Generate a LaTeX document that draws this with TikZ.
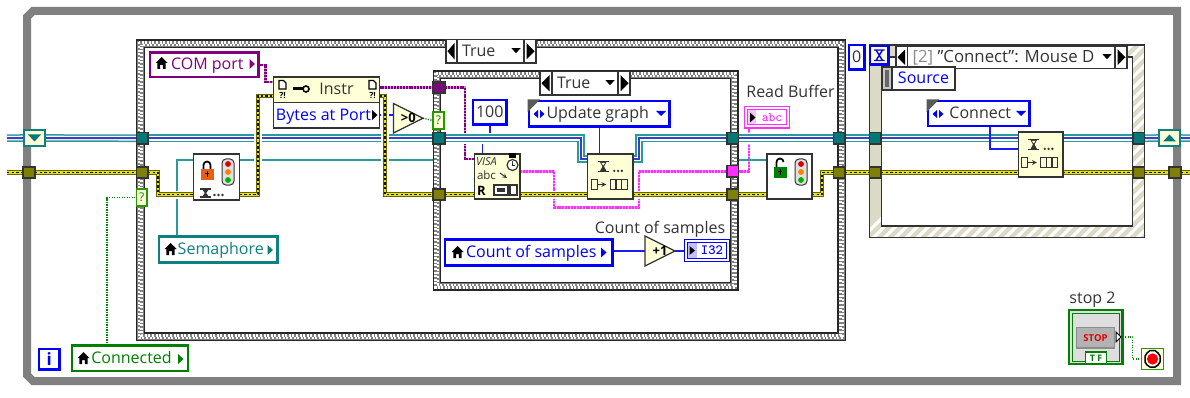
\documentclass[tikz,border=0pt]{standalone}
\usepackage{fontspec}
\setmainfont{Open Sans}
\usetikzlibrary{calc}
\pgfdeclarelayer{frames}\pgfdeclarelayer{wires}\pgfsetlayers{frames,wires,main}
\definecolor{loopgray}{HTML}{808080}
\definecolor{tealw}{HTML}{2B9A9A}
\definecolor{tealb}{HTML}{0F8080}
\definecolor{tealf}{HTML}{007878}
\definecolor{olivef}{HTML}{7F7F00}
\definecolor{pale}{HTML}{FFFFD8}
\definecolor{bluew}{HTML}{1C1CF0}
\definecolor{purp}{HTML}{800080}
\definecolor{purf}{HTML}{7A0A7A}
\definecolor{mag}{HTML}{FF30FF}
\definecolor{grn}{HTML}{008000}
\definecolor{ink}{HTML}{333333}
\definecolor{hatchb}{HTML}{DADAC6}
\newcommand{\lab}{\fontsize{16}{16}\selectfont}
\tikzset{
 x=1pt,y=-1pt,
 every node/.style={inner sep=0pt,outer sep=0pt},
 txt/.style={font=\lab,text height=13pt,text depth=3pt},
 boxk/.style={draw=ink,line width=1.4,fill=white},
 yel/.style={draw=ink,line width=1.4,fill=pale},
 tunT/.style={draw=ink,line width=1.1,fill=tealf},
 tunE/.style={draw=ink,line width=1.1,fill=olivef},
 tunP/.style={draw=ink,line width=1.1,fill=purf},
 tunM/.style={draw=ink,line width=1.1,fill=mag},
 ctlP/.style={txt,draw=purp,line width=2.6,fill=white,text=purp},
 ctlT/.style={txt,draw=tealb,line width=2.6,fill=white,text=tealb},
 ctlG/.style={txt,draw=grn,line width=2.6,fill=white,text=grn},
 ctlB/.style={txt,draw=blue,line width=2.6,fill=white,text=blue},
 cstB/.style={txt,draw=blue,line width=2.6,fill=white,text=ink},
 errw/.style={line width=2.8,draw={rgb,255:red,228;green,222;blue,44},
   preaction={draw=white,line width=8},
   preaction={draw={rgb,255:red,100;green,100;blue,0},line width=4.6},
   postaction={draw={rgb,255:red,20;green,20;blue,0},line width=1.7,dash pattern=on 2.4 off 2.2}},
 clw/.style={line width=2,draw={rgb,255:red,60;green,60;blue,200},
   preaction={draw=white,line width=11},
   preaction={draw=tealw,line width=7.6},
   preaction={draw=white,line width=4.6}},
 thinT/.style={draw=tealw,line width=1.4},
 thinB/.style={draw=bluew,line width=1.5},
 strP/.style={draw=purp,line width=2.4,dash pattern=on 2 off 0.9,preaction={draw=purp!40,line width=2.4,solid}},
 strM/.style={draw=mag,line width=2.6,dash pattern=on 2 off 0.9,preaction={draw=mag!45,line width=2.6,solid}},
 boolw/.style={draw=grn,line width=1.3,dash pattern=on 1.2 off 1.3},
 enqicon/.pic={
   \draw[line width=1.8,ink] (-12.5,-15)--(-1.5,-15) (-12.5,-5)--(-1.5,-5);
   \fill[ink] (-10.5,-15) -- (-3.5,-15) -- (-6.2,-10) -- (-3.5,-5) -- (-10.5,-5) -- (-7.8,-10) -- cycle;
   \fill[pale] (-8.8,-13.6) -- (-5.2,-13.6) -- (-7,-11) -- cycle;
   \fill[ink] (4,-5.6) circle (1.3) (7.8,-5.6) circle (1.3) (11.6,-5.6) circle (1.3);
   \draw[line width=1.1,ink] (-19,3) rectangle (-13,13);
   \draw[line width=1.1,ink,->,>=stealth] (-13,8) -- (-4,8);
   \draw[line width=1.2,ink] (0,3) rectangle (17,13) (5.7,3)--(5.7,13) (11.3,3)--(11.3,13);
 },
 trafficicon/.pic={
   \draw[line width=1,ink,fill=black!12,rounded corners=4] (-6,-13) rectangle (6,13);
   \fill[red!85!black] (0,-8) circle (2.9);
   \fill[orange] (0,0) circle (2.9);
   \fill[green!70!black] (0,8) circle (2.9);
 },
 lockicon/.pic={
   \draw[line width=1.7,black] (-3.5,-1) -- (-3.5,-5) arc[start angle=180,end angle=360,radius=3.5] -- (3.5,-1);
   \fill[pic actions] (-6.5,-1) rectangle (6.5,10);
   \draw[line width=1,black] (0,1.5)--(0,7) (-2,3.5)--(2,3.5);
 },
 unlockicon/.pic={
   \draw[line width=1.7,black] (-3.5,-1) -- (-3.5,-6) arc[start angle=180,end angle=360,radius=3.5];
   \fill[pic actions] (-6.5,-1) rectangle (6.5,10);
   \draw[line width=1,black] (0,1.5)--(0,7) (-2,3.5)--(2,3.5);
 },
 houseicon/.pic={
   \fill[black] (0,-6) -- (6,0) -- (4.2,0) -- (4.2,6) -- (1.4,6) -- (1.4,2) -- (-1.4,2) -- (-1.4,6) -- (-4.2,6) -- (-4.2,0) -- (-6,0) -- cycle;
 },
 docicon/.pic={
   \draw[line width=1.1,black,fill=white] (-3.5,-4.5) -- (1,-4.5) -- (3.5,-2) -- (3.5,4) -- (-3.5,4) -- cycle;
   \node[font=\fontsize{8.5}{8.5}\selectfont\bfseries,text=black] at (0,10) {?!};
 },
}
% box: style, name, x1, y1, x2, y2, text
\newcommand{\bx}[7]{\node[#1,minimum width={(#5-#3)*1pt},minimum height={(#6-#4)*1pt}] (#2) at ({(#3+#5)/2},{(#4+#6)/2}) {#7};}
\newcommand{\casefr}[4]{%
 \draw[line width=8.6,black!85] ({#1+4.3},{#2+4.3}) rectangle ({#3-4.3},{#4-4.3});
 \draw[line width=6.4,black!50] ({#1+4.3},{#2+4.3}) rectangle ({#3-4.3},{#4-4.3});
 \draw[line width=2.6,white,dash pattern=on 2 off 1.6] ({#1+3},{#2+3}) rectangle ({#3-3},{#4-3});
 \draw[line width=2.6,white,dash pattern=on 2 off 1.6,dash phase=1.8] ({#1+5.6},{#2+5.6}) rectangle ({#3-5.6},{#4-5.6});
}
% selector: name, x1,y1,x2,y2, d1, d2, text(node at left)
\newcommand{\selbx}[8]{%
 \bx{boxk}{#1}{#2}{#3}{#4}{#5}{}
 \draw[line width=1.3,ink] (#6,#3) -- (#6,#5) (#7,#3) -- (#7,#5);
 \fill[black] ({#6-2.5},{#3+3.5}) -- ({#6-2.5},{#5-3.5}) -- ({#2+1.5},{(#3+#5)/2}) -- cycle;
 \fill[black] ({#7+2.5},{#3+3.5}) -- ({#7+2.5},{#5-3.5}) -- ({#4-1.5},{(#3+#5)/2}) -- cycle;
 \fill[black] ({#7-12.5},{(#3+#5)/2-3}) -- ({#7-3.5},{(#3+#5)/2-3}) -- ({#7-8},{(#3+#5)/2+2}) -- cycle;
 \node[txt,anchor=west,text=ink] (#1t) at ({#6+5},{(#3+#5)/2+0.5}) {#8};
}
\newcommand{\tri}[6]{%
 \draw[line width=1.3,ink,fill=pale] (#2,#3) -- (#4,{(#3+#5)/2}) -- (#2,#5) -- cycle;
 \node[minimum width={(#4-#2)*1pt},minimum height={(#5-#3)*1pt},font=\fontsize{13}{13}\selectfont\bfseries,text=black] (#1) at ({(#2+#4)/2},{(#3+#5)/2}) {#6\hspace{7pt}};
}
\newcommand{\rtri}[3]{\fill[#3] ({#1-2.5},{#2-5}) -- ({#1+3},#2) -- ({#1-2.5},{#2+5}) -- cycle;}
\begin{document}
\begin{tikzpicture}
\useasboundingbox (0,0) rectangle (1190,398);

\begin{pgfonlayer}{frames}
 \fill[white] (0,0) rectangle (1190,398);
 % while loop
 \draw[line width=8,loopgray,miter limit=4] (33,11) -- (1177,11) -- (1177,381) -- (33,381) -- (27,375) -- (27,17) -- cycle;
 % cases
 \casefr{136}{39.5}{846}{341}
 \casefr{432.5}{70.5}{738.5}{290.5}
 % event structure
 \begin{scope}[even odd rule]
  \clip (869.5,45) rectangle (1144.5,237.5) (881.5,57) rectangle (1132.5,226);
  \fill[hatchb] (869,45) rectangle (1145,238);
  \foreach \k in {0,11,...,473}{\draw[white,line width=3.2] ({860+\k},240) -- ({860+\k+200},40);}
 \end{scope}
 \draw[line width=1.3,ink] (869.5,45) rectangle (1144.5,237.5) (881.5,57) rectangle (1132.5,226);
\end{pgfonlayer}

% selectors
\selbx{selO}{446}{39.5}{536}{63}{457}{524}{True}
\selbx{selI}{540}{71.5}{630}{95}{552}{618}{True}
\selbx{selE}{896}{46}{1127}{68.5}{907.5}{1115}{\fontsize{16.8}{17}\selectfont\textcolor{black!45}{[2]} "Connect": Mouse D}

% loop terminals
\bx{draw=tealb,line width=2.4,fill=pale}{lsrT}{24}{130}{45}{146}{}
\fill[tealf] (28,134.5) -- (41,134.5) -- (34.5,141.5) -- cycle;
\bx{draw=tealb,line width=2.4,fill=pale}{rsrT}{1159}{130}{1180}{146}{}
\fill[tealf] (1163,141.5) -- (1176,141.5) -- (1169.5,134.5) -- cycle;
\bx{tunE}{llpE}{23}{167}{35}{178}{}
\bx{tunE}{rlpE}{1169}{167}{1181}{178}{}
% tunnels
\bx{tunT}{oTL}{136.5}{132.5}{148}{144}{}
\bx{tunE}{oEL}{136.5}{167}{148}{178}{}
\bx{tunT}{oTR}{833.5}{132.5}{845}{144}{}
\bx{tunE}{oER}{833.5}{167}{845}{178}{}
\bx{tunT}{iTL}{433}{132.5}{445}{144}{}
\bx{tunE}{iEL}{433}{189}{445}{200}{}
\bx{tunP}{iPL}{433}{82}{445}{93}{}
\bx{tunT}{iTR}{727}{132.5}{738.5}{144}{}
\bx{tunM}{iMR}{727}{165.5}{738.5}{177}{}
\bx{tunE}{iER}{727}{189}{738.5}{200}{}
\bx{tunT}{evTL}{869.5}{132.5}{881}{144}{}
\bx{tunE}{evEL}{869.5}{167}{881}{178}{}
\bx{tunT}{evTR}{1133}{132.5}{1144.5}{144}{}
\bx{tunE}{evER}{1133}{167}{1144.5}{178}{}
% selector terminals
\bx{draw=grn!80!lime,line width=1.3,fill=pale,font=\fontsize{12}{12}\selectfont,text=grn}{sel}{136.5}{189}{147}{206}{?}
\bx{draw=grn!80!lime,line width=1.3,fill=pale,font=\fontsize{12}{12}\selectfont,text=grn}{bool}{433}{112}{444}{129}{?}

% controls
\bx{ctlP}{com}{150}{52.5}{258.5}{77}{\hspace{6pt}COM port}
\pic at (161.5,63) {houseicon}; \rtri{252}{64}{purp}
\bx{ctlT}{sem}{159}{236.5}{277.5}{262.5}{\hspace{5pt}Semaphore}
\pic at (170.5,249) {houseicon}; \rtri{270}{250}{tealb}
\bx{ctlG}{conn}{72}{345.5}{188}{371}{\hspace{3pt}Connected}
\pic at (83.5,358) {houseicon}; \rtri{180.5}{359}{grn}
\bx{ctlB}{cnt}{445}{239.5}{612.5}{265.5}{\hspace{5pt}Count of samples}
\pic at (457.5,252) {houseicon}; \rtri{603.5}{252.5}{blue}
\bx{draw=blue,line width=2.6,fill=white,font=\fontsize{17}{17}\selectfont\bfseries,text=blue}{ibox}{39}{349}{59.5}{369.5}{i}

% Instr node
\bx{yel}{instr}{273.5}{77}{379.5}{102.5}{}
\node[txt,text=ink] (instrT) at (336.5,89.5) {Instr};
\pic at (282.5,85) {docicon}; \pic at (372.5,85) {docicon};
\fill[black] (293,87.5) rectangle (303,90.5);
\draw[line width=1.6,black] (306,89) circle (3);
\bx{boxk,txt,text=blue}{bytes}{273.5}{102.5}{379.5}{128}{\hspace{-6pt}Bytes at Port}
\rtri{374.5}{115}{black}

% comparison and increment
\tri{gt}{393.5}{103.5}{423}{133}{>0}
\tri{inc}{645}{236}{675}{266}{+1}

% lock
\bx{boxk}{lock}{193.5}{154}{239.5}{200}{}
\pic[fill={rgb,255:red,228;green,96;blue,20}] at (207,170) {lockicon};
\pic at (228,172) {trafficicon};
\draw[line width=1.6,ink] (200,189)--(211,189) (200,197)--(211,197);
\fill[ink] (202,189) -- (209,189) -- (206.2,193) -- (209,197) -- (202,197) -- (204.8,193) -- cycle;
\fill[ink] (214.5,195) circle (1.3) (218.5,195) circle (1.3) (222.5,195) circle (1.3);
% unlock
\bx{boxk}{unlock}{767}{154}{812}{199}{}
\pic[fill=grn] at (780,168) {unlockicon};
\pic at (801,172) {trafficicon};

% VISA read
\bx{yel}{visa}{474.5}{154}{520}{199}{}
\node[font=\fontsize{11}{11}\selectfont\itshape,text=ink,anchor=west] (visaT) at (476,161.5) {VISA};
\node[font=\fontsize{11.5}{11.5}\selectfont,text=ink,anchor=west] (visaA) at (477,175) {abc};
\node[font=\fontsize{13}{13}\selectfont\bfseries,text=black,anchor=west] (visaR) at (477,191) {R};
\draw[line width=1.2,ink,fill=white] (512.5,165) circle (5.5);
\fill[black] (509,153.5) rectangle (516,158.5);
\draw[line width=0.9,ink] (512.5,161.5)--(512.5,165)--(515,165);
\draw[line width=1,ink,->,>=stealth] (500,173) -- (507,178);
\draw[line width=1.2,ink,fill=white] (494,185) rectangle (508,195) (510,185) rectangle (517,195);
\fill[ink] (497,188) rectangle (505,192);

% enqueue
\bx{yel}{wait}{587.5}{154}{633}{199}{}
\pic at (wait.center) {enqicon};
\bx{yel}{waitE}{1018.5}{132}{1063}{177}{}
\pic at (waitE.center) {enqicon};

% constants
\bx{cstB}{hund}{473}{100}{506.5}{124.5}{100}
\bx{cstB}{upd}{529}{101}{669.5}{126.5}{\hspace{-3pt}Update graph}
\fill[black!65] (527.5,99.5) -- (540,99.5) -- (527.5,112) -- cycle;
\fill[blue] (538,110) -- (533.5,114) -- (538,118) -- cycle (540,110) -- (544.5,114) -- (540,118) -- cycle;
\fill[blue] (656,111) -- (666,111) -- (661,116) -- cycle;
\bx{cstB}{conc}{928}{101}{1029.5}{126}{\hspace{3pt}Connect}
\fill[black!65] (926.5,99.5) -- (939,99.5) -- (926.5,112) -- cycle;
\fill[blue] (937,110) -- (932.5,114) -- (937,118) -- cycle (939,110) -- (943.5,114) -- (939,118) -- cycle;
\fill[blue] (1016,111) -- (1026,111) -- (1021,116) -- cycle;
\bx{cstB}{zero}{849}{45}{864.5}{69.5}{0}
\bx{draw=blue,line width=2.6,fill=pale}{hgb}{870}{46}{888.5}{64.5}{}
\draw[line width=1.4,blue] (874,50)--(884.5,50) (874,60.5)--(884.5,60.5) (876,50)--(882.5,60.5) (882.5,50)--(876,60.5);
% source node
\bx{draw=ink,line width=1.3,fill=black!22}{srcbar}{882}{67}{892}{90}{}
\fill[black!60] (885,70) rectangle (889,87);
\bx{draw=ink,line width=1.3,fill=white,txt,text=blue}{src}{892}{67}{955}{90}{Source}

% labels
\node[txt,text=ink] (rbL) at (790.5,93) {Read Buffer};
\node[txt,text=ink] (csL) at (660,228) {Count of samples};
\node[txt,text=ink] (stL) at (1092.5,298) {stop 2};

% indicators
\bx{draw=mag,line width=1.5,fill=white,font=\fontsize{13}{13}\selectfont\ttfamily\bfseries,text=mag}{read}{744.5}{106.5}{789.5}{128}{\hspace{10pt}abc}
\draw[line width=1,mag] (747.5,109.5) rectangle (786.5,125);
\fill[mag!30] (748,110) rectangle (756,124.5);
\fill[black] (750,112.5) -- (755.5,117.5) -- (750,122.5) -- cycle;
\bx{draw=blue,line width=1.5,fill=white,font=\fontsize{14}{14}\selectfont\ttfamily\bfseries,text=blue}{ind}{684.5}{239.5}{729.5}{261.5}{\hspace{10pt}I32}
\draw[line width=1,blue] (687.5,242.5) rectangle (726.5,258.5);
\fill[blue!25] (688,243) rectangle (697,258);
\fill[black] (689.5,246) -- (695,250.5) -- (689.5,255) -- cycle;

% stop
\bx{draw=grn,line width=2.6,fill=black!13}{stop}{1069}{310}{1122.5}{364}{}
\draw[line width=1,grn] (1072,313) rectangle (1119.5,361);
\bx{draw=black!45,line width=1.5,fill=black!30,font=\fontsize{9.5}{9.5}\selectfont\bfseries,text=red!90!black}{stopb}{1076.5}{327.5}{1114.5}{348}{STOP}
\bx{draw=grn,line width=1.3,fill=white,font=\fontsize{9}{9}\selectfont\bfseries,text=grn}{tf}{1085.5}{352}{1106.5}{364}{T F}
\fill[white,draw=black,line width=1] (1116,332) -- (1121,337) -- (1116,342) -- cycle;
\bx{draw=grn!80!lime,line width=1.5,fill=pale}{term}{1141.5}{348.5}{1163.5}{369.5}{}
\draw[line width=1.5,black,fill=white] (1147,353) -- (1150,350.5) -- (1155,350.5) -- (1158,353) -- (1160,356) -- (1160,362) -- (1158,365) -- (1155,367) -- (1150,367) -- (1147,365) -- (1145,362) -- (1145,356) -- cycle;
\fill[red] (1152.5,359) circle (5.6);

\begin{pgfonlayer}{wires}
 % free ends of the wires that leave the picture
 \coordinate (clIn) at (7,138.2);
 \coordinate (clOut) at (1190,138.2);
 \coordinate (erIn) at (7,172.5);
 \coordinate (erOut) at (1190,172.5);
 \coordinate (semOut) at ($(lock.north east)+(0,6)$);
 % strings, refnum and thin wires under the clusters
 \draw[strP] (com.east) -- ++(7,0) |- ($(instr.north west)+(0,5)$);
 \draw[strP] (instr.east |- iPL.center) -- (iPL.west);
 \draw[strP] (iPL.east) -- ++(20,0) |- ($(visa.north west)+(0,5)$);
 \draw[strM] (visa.east |- iMR.center) -- ++(34,0) -- ++(0,36) -- ++(85,0) |- (iMR.west);
 \draw[strM] (iMR.east) -| ($(read.south west)+(4.5,0)$);
 \draw[thinB] (hund.south) |- ($(visa.north west)+(8,-16)$) -- ($(visa.north west)+(8,0)$);
 \draw[thinT] ($(sem.north west)+(18,0)$) |- ($(lock.north west)+(0,6)$);
 \draw[thinT] (semOut) -- (semOut -| iTL.west);
 \draw[thinT] (iTR.east |- semOut) -- (unlock.west |- semOut);
 \draw[thinB] (bytes.east) -- (gt.west |- bytes.east);
 % cluster wire
 \draw[clw] (clIn) -- (lsrT.west);
 \draw[clw] (lsrT.east) -- (oTL.west);
 \draw[clw] (oTL.east) -- (iTL.west);
 \draw[clw] (iTL.east) -- ++(136,0) |- ($(wait.north west)+(0,5)$);
 \draw[clw] ($(wait.north east)+(0,5)$) -- ++(6,0) |- (iTR.west);
 \draw[clw] (iTR.east) -- (oTR.west);
 \draw[clw] (oTR.east) -- (evTL.west);
 \draw[clw] (evTL.east) -- (waitE.west |- evTL.east);
 \draw[clw] (waitE.east |- evTR.west) -- (evTR.west);
 \draw[clw] (evTR.east) -- (rsrT.west);
 \draw[clw] (rsrT.east) -- (clOut);
 % blue wires over the cluster
 \draw[thinB] (upd.south) -- (upd.south |- wait.north);
 \draw[thinB] ($(conc.south west)+(62,0)$) |- ($(waitE.north west)+(0,17)$);
 \draw[thinB] (cnt.east |- inc.west) -- (inc.west);
 \draw[thinB] (inc.east) -- (ind.west |- inc.east);
 % booleans
 \draw[boolw] ($(conn.north west)+(35,0)$) |- (sel.west);
 \draw[boolw] (gt.east) -- (bool.west);
 \draw[boolw] (stop.east) -- ++(10,0) |- (term.west);
 % error wire
 \draw[errw] (erIn) -- (llpE.west);
 \draw[errw] (llpE.east) -- (oEL.west);
 \draw[errw] (oEL.east) -- ++(10,0) |- (lock.west |- iEL.center);
 \draw[errw] (lock.east |- iEL.center) -- ++(18.5,0) |- ($(instr.south west)+(0,-6.5)$);
 \draw[errw] ($(instr.south east)+(0,-6.5)$) -- ++(5.5,0) |- (iEL.west);
 \draw[errw] (iEL.east) -- (visa.west |- iEL.center);
 \draw[errw] (visa.east |- iEL.center) -- (wait.west |- iEL.center);
 \draw[errw] (wait.east |- iER.center) -- (iER.west);
 \draw[errw] (iER.east) -- (unlock.west |- iER.center);
 \draw[errw] (unlock.east |- iER.center) -- ++(10,0) |- (oER.west);
 \draw[errw] (oER.east) -- (evEL.west);
 \draw[errw] (evEL.east) -- (waitE.west |- evEL.east);
 \draw[errw] (waitE.east |- evER.west) -- (evER.west);
 \draw[errw] (evER.east) -- (rlpE.west);
 \draw[errw] (rlpE.east) -- (erOut);
\end{pgfonlayer}
\end{tikzpicture}
\end{document}
